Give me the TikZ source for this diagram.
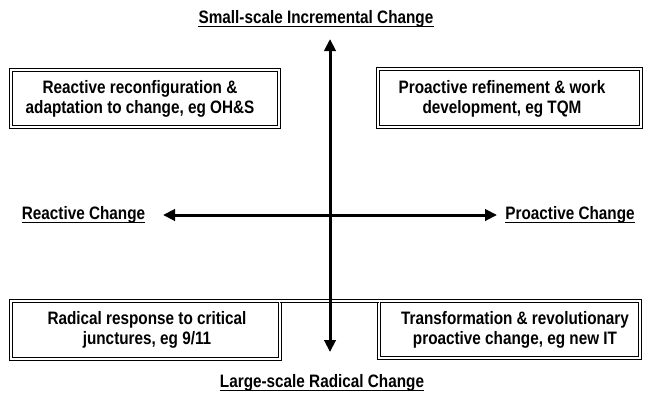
\documentclass[tikz,border=0pt]{standalone}
\usepackage{fontspec}
\setmainfont{Liberation Sans}[FakeStretch=0.85]
\usetikzlibrary{arrows.meta}
\begin{document}
\begin{tikzpicture}[x=0.75pt,y=-0.75pt,
  txt/.style={font=\bfseries\fontsize{13.5}{15}\selectfont, align=center, inner sep=0pt},
  axislabel/.style={font=\bfseries\fontsize{13.5}{15}\selectfont, inner sep=0pt, anchor=base},
  uline/.style={line width=1.1pt},
  boxline/.style={draw, line width=0.6pt, double, double distance=1.5pt},
  quadbox/.style={boxline, inner sep=0pt, outer sep=0pt, rectangle},
  axis/.style={line width=2.25pt,
    {Triangle[length=9pt,width=8.5pt]}-{Triangle[length=9pt,width=8.5pt]}}
]
\useasboundingbox (0,0) rectangle (663,400);

% quadrant boxes
\node[quadbox, minimum width=201pt, minimum height=42.75pt] (tl) at (145,98.5) {};
\node[quadbox, minimum width=197.25pt, minimum height=43.5pt] (tr) at (509.5,98) {};
\node[quadbox, minimum width=201.75pt, minimum height=43.5pt] (bl) at (145.5,330) {};
\node[quadbox, minimum width=195.75pt, minimum height=42.75pt] (br) at (509.5,329.5) {};
% the lower boxes share one continuous top edge
\draw[boxline] (bl.north east) -- (br.north west);

% quadrant texts
\node[txt] (tltext) at (140,99) {Reactive reconfiguration \&\\adaptation to change, eg OH\&S};
\node[txt] (trtext) at (502,99) {Proactive refinement \& work\\development, eg TQM};
\node[txt] (bltext) at (147,330) {Radical response to critical\\junctures, eg 9/11};
\node[txt] (brtext) at (515,330) {Transformation \& revolutionary\\proactive change, eg new IT};

% axes
\coordinate (up) at (330,39);
\coordinate (down) at (330,352);
\coordinate (left) at (163,215);
\coordinate (right) at (497,215);
\draw[axis] (down) -- (up);
\draw[axis] (left) -- (right);

% axis labels, underlined
\node[axislabel] (small) at (316,23) {Small-scale Incremental Change};
\node[axislabel] (large) at (322,387) {Large-scale Radical Change};
\node[axislabel] (reactive) at (83.5,219) {Reactive Change};
\node[axislabel] (proactive) at (570,219) {Proactive Change};
\foreach \n in {small,large,reactive,proactive}
  \draw[uline] ([yshift=-2.8pt]\n.base west) -- ([yshift=-2.8pt]\n.base east);
\end{tikzpicture}
\end{document}
